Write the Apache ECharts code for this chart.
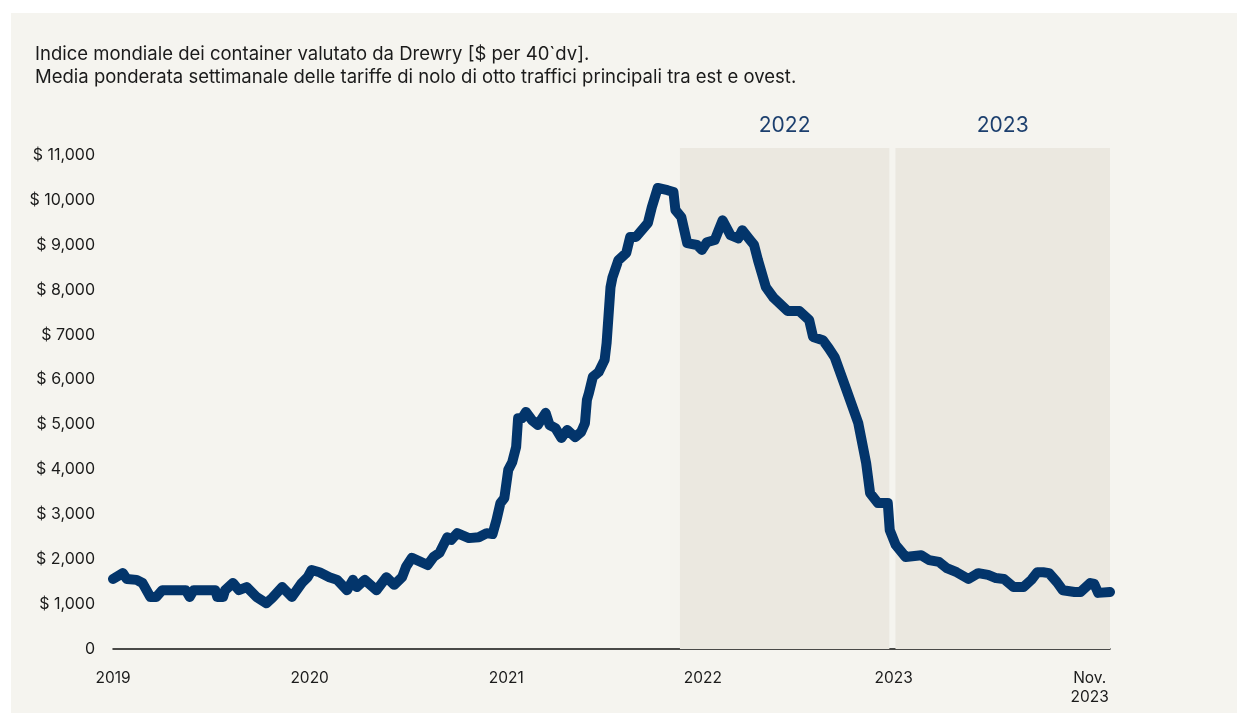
<!DOCTYPE html>
<html>
<head>
<meta charset="utf-8">
<script src="https://cdn.jsdelivr.net/npm/echarts@6/dist/echarts.min.js"></script>
<style>
  html, body { margin: 0; padding: 0; background: #ffffff; }
  #main { position: absolute; left: 11px; top: 13px; width: 1226px; height: 700px; }
</style>
</head>
<body>
<div id="main"></div>
<script>
// posizione sull'asse (anni) e valore dell'indice ($ per container 40')
const t = [
  2019.00, 2019.05, 2019.07, 2019.12, 2019.15, 2019.19, 2019.22, 2019.25, 2019.37, 2019.39,
  2019.41, 2019.52, 2019.53, 2019.56, 2019.57, 2019.61, 2019.64, 2019.68, 2019.73, 2019.78,
  2019.81, 2019.86, 2019.91, 2019.96, 2019.99, 2020.01, 2020.05, 2020.10, 2020.14, 2020.19,
  2020.22, 2020.24, 2020.28, 2020.34, 2020.39, 2020.43, 2020.47, 2020.49, 2020.52, 2020.60,
  2020.63, 2020.66, 2020.70, 2020.72, 2020.75, 2020.81, 2020.86, 2020.90, 2020.93, 2020.95,
  2020.97, 2020.99, 2021.01, 2021.03, 2021.04, 2021.05, 2021.06, 2021.08, 2021.10, 2021.13,
  2021.16, 2021.20, 2021.22, 2021.25, 2021.28, 2021.31, 2021.35, 2021.38, 2021.40, 2021.41,
  2021.42, 2021.44, 2021.47, 2021.50, 2021.51, 2021.53, 2021.54, 2021.57, 2021.61, 2021.63,
  2021.66, 2021.72, 2021.74, 2021.77, 2021.82, 2021.85, 2021.86, 2021.89, 2021.92, 2021.97,
  2021.995, 2022.02, 2022.06, 2022.08, 2022.10, 2022.14, 2022.18, 2022.20, 2022.24, 2022.26,
  2022.28, 2022.32, 2022.36, 2022.43, 2022.49, 2022.54, 2022.56, 2022.61, 2022.64, 2022.67,
  2022.73, 2022.79, 2022.83, 2022.85, 2022.89, 2022.94, 2022.95, 2022.98, 2023.01, 2023.03,
  2023.11, 2023.15, 2023.20, 2023.24, 2023.29, 2023.35, 2023.40, 2023.45, 2023.49, 2023.53,
  2023.58, 2023.63, 2023.67, 2023.70, 2023.73, 2023.76, 2023.80, 2023.83, 2023.89, 2023.92,
  2023.97, 2023.99, 2024.01, 2024.07
]
const wci = [
  1560, 1690, 1560, 1540, 1470, 1160, 1160, 1310, 1310, 1160,
  1310, 1310, 1160, 1160, 1310, 1470, 1310, 1380, 1160, 1020,
  1140, 1380, 1160, 1470, 1600, 1760, 1710, 1600, 1540, 1310,
  1540, 1380, 1540, 1310, 1600, 1430, 1600, 1830, 2030, 1870,
  2050, 2140, 2490, 2430, 2580, 2470, 2490, 2580, 2560, 2870,
  3250, 3360, 3990, 4160, 4140, 4500, 5140, 5140, 5280, 5100,
  4990, 5260, 4990, 4920, 4700, 4880, 4720, 4830, 5030, 5550,
  5700, 6060, 6170, 6440, 6810, 8060, 8280, 8660, 8820, 9180,
  9180, 9490, 9840, 10270, 10220, 10180, 9780, 9620, 9040, 9000,
  8890, 9060, 9110, 9330, 9550, 9220, 9150, 9330, 9110, 9000,
  8660, 8060, 7820, 7530, 7530, 7330, 6950, 6880, 6700, 6500,
  5770, 5030, 4140, 3470, 3250, 3250, 2650, 2320, 2160, 2050,
  2090, 1980, 1940, 1800, 1710, 1560, 1690, 1650, 1580, 1560,
  1380, 1380, 1540, 1710, 1710, 1690, 1490, 1310, 1270, 1270,
  1470, 1450, 1250, 1270
]

// etichette degli assi
const xTickPos = [2019, 2020, 2021, 2022, 2022.97, 2023.967]
const xTickLabels = ['2019', '2020', '2021', '2022', '2023', 'Nov.\n2023']
const yTickLabels = ['0', '$ 1,000', '$ 2,000', '$ 3,000', '$ 4,000', '$ 5,000',
  '$ 6,000', '$ 7000', '$ 8,000', '$ 9,000', '$ 10,000', '$ 11,000']

// fasce annuali evidenziate
const bands = [
  { name: '2022', from: 2021.883, to: 2022.948 },
  { name: '2023', from: 2022.979, to: 2024.07 }
]

const font = 'Inter, "Noto Sans", sans-serif'
const myChart = echarts.init(document.getElementById('main'))
myChart.setOption({
  backgroundColor: '#f5f4ef',
  animation: false,
  textStyle: { fontFamily: font },
  title: {
    text: 'Indice mondiale dei container valutato da Drewry [$ per 40`dv].\nMedia ponderata settimanale delle tariffe di nolo di otto traffici principali tra est e ovest.',
    left: 24,
    top: 30,
    padding: 0,
    textStyle: {
      fontFamily: font,
      fontSize: 18.5,
      fontWeight: 'normal',
      lineHeight: 23,
      color: '#1b1b1b'
    }
  },
  grid: {
    left: 102,
    right: 127,
    top: 135,
    bottom: 64,
    containLabel: false
  },
  xAxis: {
    type: 'value',
    min: 2019,
    max: 2024.07,
    splitLine: { show: false },
    axisLine: { show: true, lineStyle: { color: '#111', width: 1.5 } },
    axisTick: { show: false },
    axisLabel: {
      customValues: xTickPos,
      margin: 20,
      fontSize: 15.5,
      lineHeight: 19,
      color: '#1b1b1b',
      fontFamily: font,
      formatter: function (v) {
        const i = xTickPos.indexOf(v)
        return i >= 0 ? xTickLabels[i] : ''
      }
    }
  },
  yAxis: {
    type: 'value',
    min: 0,
    max: 11160,
    interval: 1000,
    splitLine: { show: false },
    axisLine: { show: false },
    axisTick: { show: false },
    axisLabel: {
      margin: 18,
      fontSize: 16,
      color: '#1b1b1b',
      fontFamily: font,
      showMaxLabel: false,
      formatter: function (v) {
        const i = Math.round(v / 1000)
        return v % 1000 === 0 && yTickLabels[i] ? yTickLabels[i] : ''
      }
    }
  },
  series: [
    {
      type: 'line',
      data: t.map((x, i) => [x, wci[i]]),
      showSymbol: false,
      symbol: 'none',
      lineStyle: { color: '#03356b', width: 10, cap: 'round', join: 'round' },
      z: 5,
      markArea: {
        silent: true,
        itemStyle: { color: '#ebe8e0' },
        label: {
          show: true,
          position: 'top',
          distance: 12,
          color: '#1c3f6e',
          fontSize: 21,
          fontFamily: font
        },
        data: bands.map(b => [
          { name: b.name, xAxis: b.from, yAxis: 11160 },
          { xAxis: b.to, yAxis: 0 }
        ])
      }
    }
  ]
})
</script>
</body>
</html>
